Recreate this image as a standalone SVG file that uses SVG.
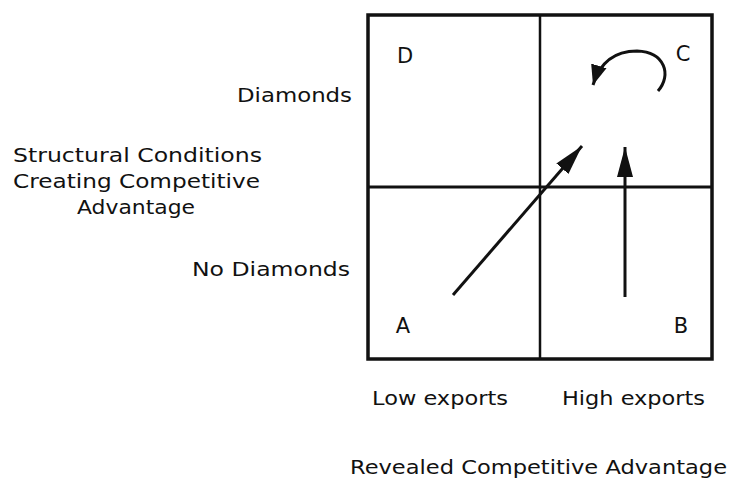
<svg xmlns="http://www.w3.org/2000/svg" width="730" height="481" viewBox="0 0 730 481">
<style>
.t{font-family:"DejaVu Sans","Liberation Sans",sans-serif;font-size:20px;fill:#111}
.q{font-family:"DejaVu Sans","Liberation Sans",sans-serif;font-size:21px;fill:#111}
.ln{stroke:#111;fill:none}
</style>
<defs>
<marker id="ah" markerWidth="32" markerHeight="20" refX="30" refY="10" orient="auto" markerUnits="userSpaceOnUse">
<path d="M0,2 L30,10 L0,18 Z" fill="#111"/>
</marker>
<marker id="ah2" markerWidth="22" markerHeight="18" refX="20" refY="9" orient="auto" markerUnits="userSpaceOnUse">
<path d="M0,1 L20,9 L0,17 Z" fill="#111"/>
</marker>
</defs>
<rect width="730" height="481" fill="#fff"/>
<g id="matrix">
<rect x="368" y="15" width="344" height="344" class="ln" stroke-width="3.5"/>
<line x1="540" y1="15" x2="540" y2="359" class="ln" stroke-width="2.5"/>
<line x1="368" y1="187" x2="712" y2="187" class="ln" stroke-width="3"/>
</g>
<g id="quadD"><text class="q" x="405" y="63" text-anchor="middle">D</text></g>
<g id="quadC"><text class="q" x="683" y="61" text-anchor="middle">C</text></g>
<g id="quadA"><text class="q" x="403" y="333" text-anchor="middle">A</text></g>
<g id="quadB"><text class="q" x="681" y="333" text-anchor="middle">B</text></g>
<g id="connectors">
<line x1="453" y1="295" x2="582" y2="146" class="ln" stroke-width="3" marker-end="url(#ah)"/>
<line x1="625" y1="297" x2="625" y2="147" class="ln" stroke-width="3" marker-end="url(#ah)"/>
<path d="M658,91 C672,75 665,52 637,51 C615,51 600,62 593,85" class="ln" stroke-width="3" marker-end="url(#ah2)"/>
</g>
<g id="labels">
<text class="t" x="352" y="102" text-anchor="end" textLength="115" lengthAdjust="spacingAndGlyphs">Diamonds</text>
<text class="t" x="13" y="162" textLength="249" lengthAdjust="spacingAndGlyphs">Structural Conditions</text>
<text class="t" x="13" y="188" textLength="247" lengthAdjust="spacingAndGlyphs">Creating Competitive</text>
<text class="t" x="77" y="214" textLength="118" lengthAdjust="spacingAndGlyphs">Advantage</text>
<text class="t" x="192" y="276" textLength="158" lengthAdjust="spacingAndGlyphs">No Diamonds</text>
<text class="t" x="372" y="405" textLength="136" lengthAdjust="spacingAndGlyphs">Low exports</text>
<text class="t" x="562" y="405" textLength="143" lengthAdjust="spacingAndGlyphs">High exports</text>
<text class="t" x="350" y="474" textLength="377" lengthAdjust="spacingAndGlyphs">Revealed Competitive Advantage</text>
</g>
</svg>
